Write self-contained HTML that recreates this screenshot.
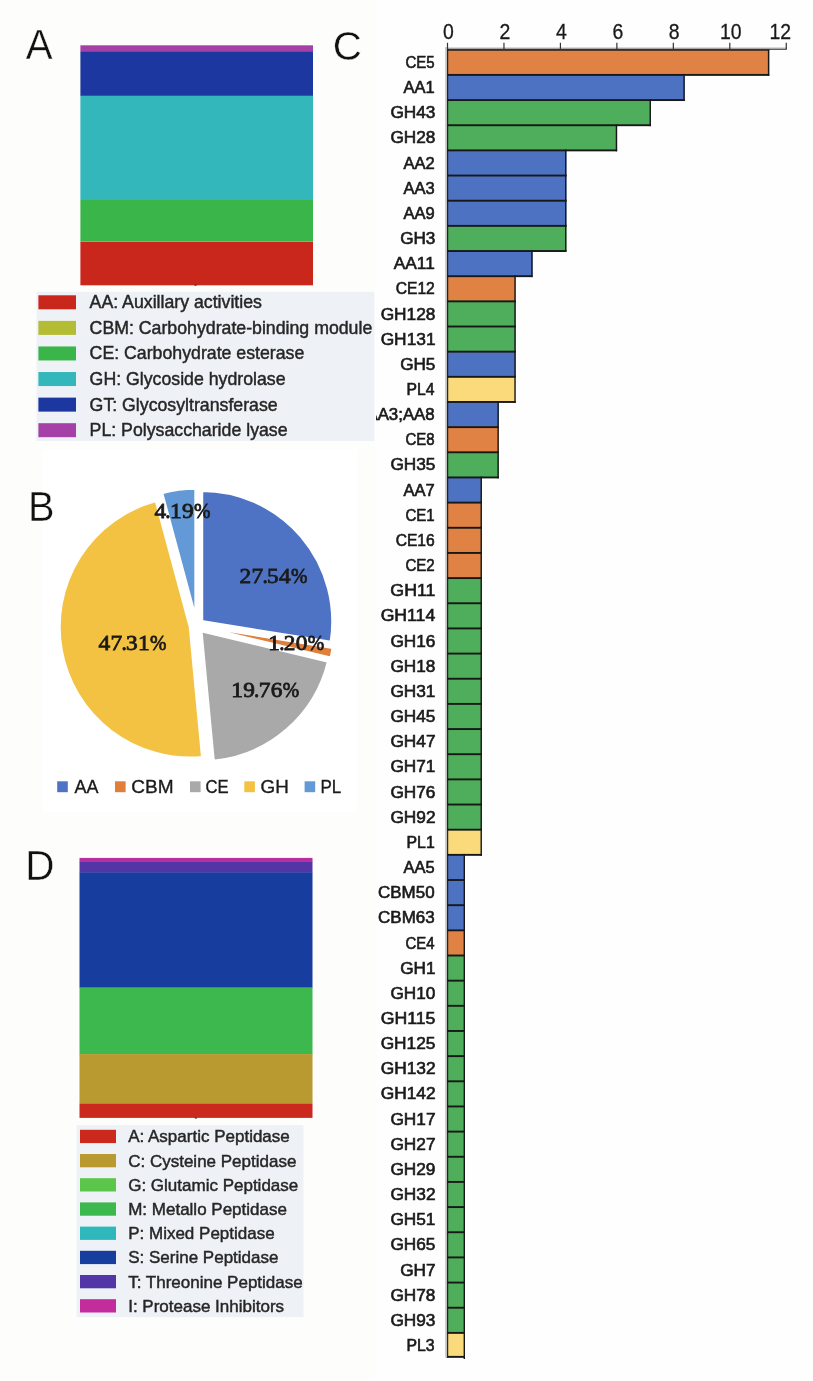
<!DOCTYPE html>
<html><head><meta charset="utf-8"><title>Figure</title>
<style>
html,body{margin:0;padding:0;background:#fdfdfc;}
body{width:813px;height:1381px;overflow:hidden;font-family:"Liberation Sans",sans-serif;}
svg{display:block;will-change:transform;opacity:0.9999;}
text{font-family:"Liberation Sans",sans-serif;}
.ser{font-family:"Liberation Serif",serif;font-weight:normal;stroke:#1a1a1a;stroke-width:0.8px;}
</style></head><body>
<svg width="813" height="1381" viewBox="0 0 813 1381">
<rect x="0" y="0" width="813" height="1381" fill="#fdfdfc"/>

<g id="panelA">
<rect x="80.4" y="45.3" width="232.6" height="6.60" fill="#A540A6"/>
<rect x="80.4" y="51.6" width="232.6" height="44.40" fill="#1C379F"/>
<rect x="80.4" y="95.7" width="232.6" height="104.60" fill="#33B7BB"/>
<rect x="80.4" y="200.0" width="232.6" height="41.60" fill="#3AB54A"/>
<rect x="80.4" y="241.3" width="232.6" height="0.90" fill="#9DB53A"/>
<rect x="80.4" y="241.9" width="232.6" height="43.40" fill="#C9271B"/>
<rect x="194.5" y="284.6" width="2" height="1.1" fill="#4a1a14"/>
<rect x="36.5" y="291.8" width="338.5" height="149.2" fill="#eef2f6"/>
<rect x="38.4" y="295.30" width="37.6" height="14" fill="#C9271B"/>
<text x="89.6" y="308.20" font-size="17.73" fill="#262626" stroke="#262626" stroke-width="0.45">AA: Auxillary activities</text>
<rect x="38.4" y="320.88" width="37.6" height="14" fill="#B4BC34"/>
<text x="89.6" y="333.78" font-size="17.73" fill="#262626" stroke="#262626" stroke-width="0.45">CBM: Carbohydrate-binding module</text>
<rect x="38.4" y="346.46" width="37.6" height="14" fill="#3AB54A"/>
<text x="89.6" y="359.36" font-size="17.73" fill="#262626" stroke="#262626" stroke-width="0.45">CE: Carbohydrate esterase</text>
<rect x="38.4" y="372.04" width="37.6" height="14" fill="#33B7BB"/>
<text x="89.6" y="384.94" font-size="17.73" fill="#262626" stroke="#262626" stroke-width="0.45">GH: Glycoside hydrolase</text>
<rect x="38.4" y="397.62" width="37.6" height="14" fill="#1C379F"/>
<text x="89.6" y="410.52" font-size="17.73" fill="#262626" stroke="#262626" stroke-width="0.45">GT: Glycosyltransferase</text>
<rect x="38.4" y="423.20" width="37.6" height="14" fill="#A540A6"/>
<text x="89.6" y="436.10" font-size="17.73" fill="#262626" stroke="#262626" stroke-width="0.45">PL: Polysaccharide lyase</text>
</g>
<g id="panelD">
<rect x="79.5" y="857.9" width="233.0" height="3.80" fill="#B8309E"/>
<rect x="79.5" y="861.4" width="233.0" height="11.40" fill="#5235A6"/>
<rect x="79.5" y="872.5" width="233.0" height="115.30" fill="#173D9F"/>
<rect x="79.5" y="987.6" width="233.0" height="66.80" fill="#3CB84E"/>
<rect x="79.5" y="1054.1" width="233.0" height="50.00" fill="#B89A31"/>
<rect x="79.5" y="1103.8" width="233.0" height="14.10" fill="#CB291D"/>
<rect x="194.8" y="1117.5" width="2" height="1.1" fill="#4a1a14"/>
<rect x="76.5" y="1125.2" width="227" height="192.0" fill="#eef2f6"/>
<rect x="80" y="1129.80" width="36" height="13.3" fill="#CB291D"/>
<text x="128.2" y="1142.30" font-size="17.0" fill="#262626" stroke="#262626" stroke-width="0.45">A: Aspartic Peptidase</text>
<rect x="80" y="1154.00" width="36" height="13.3" fill="#B89A31"/>
<text x="128.2" y="1166.50" font-size="17.0" fill="#262626" stroke="#262626" stroke-width="0.45">C: Cysteine Peptidase</text>
<rect x="80" y="1178.20" width="36" height="13.3" fill="#5CC64A"/>
<text x="128.2" y="1190.70" font-size="17.0" fill="#262626" stroke="#262626" stroke-width="0.45">G: Glutamic Peptidase</text>
<rect x="80" y="1202.40" width="36" height="13.3" fill="#3CB84E"/>
<text x="128.2" y="1214.90" font-size="17.0" fill="#262626" stroke="#262626" stroke-width="0.45">M: Metallo Peptidase</text>
<rect x="80" y="1226.60" width="36" height="13.3" fill="#2FB8BC"/>
<text x="128.2" y="1239.10" font-size="17.0" fill="#262626" stroke="#262626" stroke-width="0.45">P: Mixed Peptidase</text>
<rect x="80" y="1250.80" width="36" height="13.3" fill="#173D9F"/>
<text x="128.2" y="1263.30" font-size="17.0" fill="#262626" stroke="#262626" stroke-width="0.45">S: Serine Peptidase</text>
<rect x="80" y="1275.00" width="36" height="13.3" fill="#5235A6"/>
<text x="128.2" y="1287.50" font-size="17.0" fill="#262626" stroke="#262626" stroke-width="0.45">T: Threonine Peptidase</text>
<rect x="80" y="1299.20" width="36" height="13.3" fill="#C22C9C"/>
<text x="128.2" y="1311.70" font-size="17.0" fill="#262626" stroke="#262626" stroke-width="0.45">I: Protease Inhibitors</text>
</g>
<g id="panelB">
<rect x="42" y="449" width="315" height="363" fill="#ffffff"/>
<path d="M201.72,621.52 L201.72,490.52 A131.0,131.0 0 0 1 331.06,642.34 Z" fill="#4E73C4" stroke="#ffffff" stroke-width="3.0" stroke-linejoin="round"/>
<path d="M203.17,627.09 L332.51,647.91 A131.0,131.0 0 0 1 330.57,657.59 Z" fill="#E07E3A" stroke="#ffffff" stroke-width="2.0" stroke-linejoin="round"/>
<path d="M201.03,630.78 L328.43,661.28 A131.0,131.0 0 0 1 213.36,761.20 Z" fill="#A9A9A9" stroke="#ffffff" stroke-width="3.0" stroke-linejoin="round"/>
<path d="M190.21,626.97 L202.53,757.39 A131.0,131.0 0 0 1 156.11,500.49 Z" fill="#F4C242" stroke="#ffffff" stroke-width="3.0" stroke-linejoin="round"/>
<path d="M195.83,619.26 L161.74,492.77 A131.0,131.0 0 0 1 195.83,488.26 Z" fill="#6399D7" stroke="#ffffff" stroke-width="3.0" stroke-linejoin="round"/>
<text class="ser" transform="translate(239.60,582.7) scale(1.10,1)" font-size="21.2" fill="#1a1a1a">2</text>
<text class="ser" transform="translate(251.45,582.7) scale(1.10,1)" font-size="21.2" fill="#1a1a1a">7</text>
<text class="ser" transform="translate(262.40,582.7)" font-size="21.2" fill="#1a1a1a">.</text>
<text class="ser" transform="translate(267.10,582.7) scale(1.10,1)" font-size="21.2" fill="#1a1a1a">5</text>
<text class="ser" transform="translate(278.95,582.7) scale(1.10,1)" font-size="21.2" fill="#1a1a1a">4</text>
<text class="ser" transform="translate(291.00,582.7) scale(0.93,1)" font-size="21.2" fill="#1a1a1a">%</text>
<text class="ser" transform="translate(268.20,650.4) scale(1.10,1)" font-size="21.2" fill="#1a1a1a">1</text>
<text class="ser" transform="translate(279.15,650.4)" font-size="21.2" fill="#1a1a1a">.</text>
<text class="ser" transform="translate(283.85,650.4) scale(1.10,1)" font-size="21.2" fill="#1a1a1a">2</text>
<text class="ser" transform="translate(295.70,650.4) scale(1.10,1)" font-size="21.2" fill="#1a1a1a">0</text>
<text class="ser" transform="translate(307.75,650.4) scale(0.93,1)" font-size="21.2" fill="#1a1a1a">%</text>
<text class="ser" transform="translate(231.30,696.7) scale(1.10,1)" font-size="21.2" fill="#1a1a1a">1</text>
<text class="ser" transform="translate(243.15,696.7) scale(1.10,1)" font-size="21.2" fill="#1a1a1a">9</text>
<text class="ser" transform="translate(254.10,696.7)" font-size="21.2" fill="#1a1a1a">.</text>
<text class="ser" transform="translate(258.80,696.7) scale(1.10,1)" font-size="21.2" fill="#1a1a1a">7</text>
<text class="ser" transform="translate(270.65,696.7) scale(1.10,1)" font-size="21.2" fill="#1a1a1a">6</text>
<text class="ser" transform="translate(282.70,696.7) scale(0.93,1)" font-size="21.2" fill="#1a1a1a">%</text>
<text class="ser" transform="translate(98.60,650.4) scale(1.10,1)" font-size="21.2" fill="#1a1a1a">4</text>
<text class="ser" transform="translate(110.45,650.4) scale(1.10,1)" font-size="21.2" fill="#1a1a1a">7</text>
<text class="ser" transform="translate(121.40,650.4)" font-size="21.2" fill="#1a1a1a">.</text>
<text class="ser" transform="translate(126.10,650.4) scale(1.10,1)" font-size="21.2" fill="#1a1a1a">3</text>
<text class="ser" transform="translate(137.95,650.4) scale(1.10,1)" font-size="21.2" fill="#1a1a1a">1</text>
<text class="ser" transform="translate(150.00,650.4) scale(0.93,1)" font-size="21.2" fill="#1a1a1a">%</text>
<text class="ser" transform="translate(154.40,517.5) scale(1.10,1)" font-size="21.2" fill="#1a1a1a">4</text>
<text class="ser" transform="translate(165.35,517.5)" font-size="21.2" fill="#1a1a1a">.</text>
<text class="ser" transform="translate(170.05,517.5) scale(1.10,1)" font-size="21.2" fill="#1a1a1a">1</text>
<text class="ser" transform="translate(181.90,517.5) scale(1.10,1)" font-size="21.2" fill="#1a1a1a">9</text>
<text class="ser" transform="translate(193.95,517.5) scale(0.93,1)" font-size="21.2" fill="#1a1a1a">%</text>
<rect x="57.2" y="781.3" width="10.6" height="10.9" fill="#4E73C4"/>
<text transform="translate(74.40,792.90) scale(0.9558,1)" font-size="18.8" fill="#1a1a1a" stroke="#1a1a1a" stroke-width="0.35">AA</text>
<rect x="115" y="781.3" width="10.6" height="10.9" fill="#E07E3A"/>
<text transform="translate(131.35,792.90) scale(1.0129,1)" font-size="18.8" fill="#1a1a1a" stroke="#1a1a1a" stroke-width="0.35">CBM</text>
<rect x="190" y="781.3" width="10.6" height="10.9" fill="#A9A9A9"/>
<text transform="translate(205.57,792.90) scale(0.8872,1)" font-size="18.8" fill="#1a1a1a" stroke="#1a1a1a" stroke-width="0.35">CE</text>
<rect x="244.3" y="781.3" width="10.6" height="10.9" fill="#F4C242"/>
<text transform="translate(260.56,792.90) scale(1.0017,1)" font-size="18.8" fill="#1a1a1a" stroke="#1a1a1a" stroke-width="0.35">GH</text>
<rect x="304.6" y="781.3" width="10.6" height="10.9" fill="#6399D7"/>
<text transform="translate(320.44,792.90) scale(0.9057,1)" font-size="18.8" fill="#1a1a1a" stroke="#1a1a1a" stroke-width="0.35">PL</text>
</g>
<g id="panelC">
<rect x="374.5" y="0" width="438.5" height="1381" fill="#fefefe"/>
<text transform="translate(448.40,39.45) scale(0.90,1)" font-size="21.6" text-anchor="middle" fill="#1a1a1a" stroke="#1a1a1a" stroke-width="0.3">0</text>
<text transform="translate(504.86,39.45) scale(0.90,1)" font-size="21.6" text-anchor="middle" fill="#1a1a1a" stroke="#1a1a1a" stroke-width="0.3">2</text>
<text transform="translate(561.32,39.45) scale(0.90,1)" font-size="21.6" text-anchor="middle" fill="#1a1a1a" stroke="#1a1a1a" stroke-width="0.3">4</text>
<text transform="translate(617.78,39.45) scale(0.90,1)" font-size="21.6" text-anchor="middle" fill="#1a1a1a" stroke="#1a1a1a" stroke-width="0.3">6</text>
<text transform="translate(674.24,39.45) scale(0.90,1)" font-size="21.6" text-anchor="middle" fill="#1a1a1a" stroke="#1a1a1a" stroke-width="0.3">8</text>
<text transform="translate(730.70,39.45) scale(0.90,1)" font-size="21.6" text-anchor="middle" fill="#1a1a1a" stroke="#1a1a1a" stroke-width="0.3">10</text>
<text transform="translate(780.26,39.45) scale(0.90,1)" font-size="21.6" text-anchor="middle" fill="#1a1a1a" stroke="#1a1a1a" stroke-width="0.3">12</text>
<clipPath id="clipC"><rect x="376.0" y="0" width="440" height="1381"/></clipPath>
<g clip-path="url(#clipC)">
<rect x="446.50" y="49.20" width="322.78" height="25.66" fill="#E08244"/>
<rect x="767.88" y="48.80" width="1.4" height="27.06" fill="#181818"/>
<rect x="446.50" y="48.80" width="322.78" height="1.9" fill="#181818"/>
<text transform="translate(405.41,67.93) scale(0.8828,1)" font-size="17" fill="#1a1a1a" stroke="#1a1a1a" stroke-width="0.65">CE5</text>
<rect x="446.50" y="74.36" width="238.26" height="25.66" fill="#4D72C2"/>
<rect x="683.36" y="73.96" width="1.4" height="27.06" fill="#181818"/>
<rect x="446.50" y="73.96" width="322.78" height="1.9" fill="#181818"/>
<text transform="translate(403.53,93.09) scale(0.9714,1)" font-size="17" fill="#1a1a1a" stroke="#1a1a1a" stroke-width="0.65">AA1</text>
<rect x="446.50" y="99.52" width="204.45" height="25.66" fill="#4FAE5B"/>
<rect x="649.55" y="99.12" width="1.4" height="27.06" fill="#181818"/>
<rect x="446.50" y="99.12" width="238.26" height="1.9" fill="#181818"/>
<text transform="translate(390.39,118.25) scale(1.0141,1)" font-size="17" fill="#1a1a1a" stroke="#1a1a1a" stroke-width="0.65">GH43</text>
<rect x="446.50" y="124.68" width="170.64" height="25.66" fill="#4FAE5B"/>
<rect x="615.74" y="124.28" width="1.4" height="27.06" fill="#181818"/>
<rect x="446.50" y="124.28" width="204.45" height="1.9" fill="#181818"/>
<text transform="translate(390.39,143.41) scale(1.0141,1)" font-size="17" fill="#1a1a1a" stroke="#1a1a1a" stroke-width="0.65">GH28</text>
<rect x="446.50" y="149.84" width="119.93" height="25.66" fill="#4D72C2"/>
<rect x="565.03" y="149.44" width="1.4" height="27.06" fill="#181818"/>
<rect x="446.50" y="149.44" width="170.64" height="1.9" fill="#181818"/>
<text transform="translate(403.53,168.57) scale(0.9740,1)" font-size="17" fill="#1a1a1a" stroke="#1a1a1a" stroke-width="0.65">AA2</text>
<rect x="446.50" y="175.00" width="119.93" height="25.66" fill="#4D72C2"/>
<rect x="565.03" y="174.60" width="1.4" height="27.06" fill="#181818"/>
<rect x="446.50" y="174.60" width="119.93" height="1.9" fill="#181818"/>
<text transform="translate(403.53,193.73) scale(0.9688,1)" font-size="17" fill="#1a1a1a" stroke="#1a1a1a" stroke-width="0.65">AA3</text>
<rect x="446.50" y="200.16" width="119.93" height="25.66" fill="#4D72C2"/>
<rect x="565.03" y="199.76" width="1.4" height="27.06" fill="#181818"/>
<rect x="446.50" y="199.76" width="119.93" height="1.9" fill="#181818"/>
<text transform="translate(403.53,218.89) scale(0.9714,1)" font-size="17" fill="#1a1a1a" stroke="#1a1a1a" stroke-width="0.65">AA9</text>
<rect x="446.50" y="225.32" width="119.93" height="25.66" fill="#4FAE5B"/>
<rect x="565.03" y="224.92" width="1.4" height="27.06" fill="#181818"/>
<rect x="446.50" y="224.92" width="119.93" height="1.9" fill="#181818"/>
<text transform="translate(400.13,244.05) scale(1.0092,1)" font-size="17" fill="#1a1a1a" stroke="#1a1a1a" stroke-width="0.65">GH3</text>
<rect x="446.50" y="250.48" width="86.12" height="25.66" fill="#4D72C2"/>
<rect x="531.22" y="250.08" width="1.4" height="27.06" fill="#181818"/>
<rect x="446.50" y="250.08" width="119.93" height="1.9" fill="#181818"/>
<text transform="translate(393.80,269.21) scale(1.0171,1)" font-size="17" fill="#1a1a1a" stroke="#1a1a1a" stroke-width="0.65">AA11</text>
<rect x="446.50" y="275.64" width="69.22" height="25.66" fill="#E08244"/>
<rect x="514.32" y="275.24" width="1.4" height="27.06" fill="#181818"/>
<rect x="446.50" y="275.24" width="86.12" height="1.9" fill="#181818"/>
<text transform="translate(395.65,294.37) scale(0.9209,1)" font-size="17" fill="#1a1a1a" stroke="#1a1a1a" stroke-width="0.65">CE12</text>
<rect x="446.50" y="300.80" width="69.22" height="25.66" fill="#4FAE5B"/>
<rect x="514.32" y="300.40" width="1.4" height="27.06" fill="#181818"/>
<rect x="446.50" y="300.40" width="69.22" height="1.9" fill="#181818"/>
<text transform="translate(380.66,319.53) scale(1.0173,1)" font-size="17" fill="#1a1a1a" stroke="#1a1a1a" stroke-width="0.65">GH128</text>
<rect x="446.50" y="325.96" width="69.22" height="25.66" fill="#4FAE5B"/>
<rect x="514.32" y="325.56" width="1.4" height="27.06" fill="#181818"/>
<rect x="446.50" y="325.56" width="69.22" height="1.9" fill="#181818"/>
<text transform="translate(380.65,344.69) scale(1.0190,1)" font-size="17" fill="#1a1a1a" stroke="#1a1a1a" stroke-width="0.65">GH131</text>
<rect x="446.50" y="351.12" width="69.22" height="25.66" fill="#4D72C2"/>
<rect x="514.32" y="350.72" width="1.4" height="27.06" fill="#181818"/>
<rect x="446.50" y="350.72" width="69.22" height="1.9" fill="#181818"/>
<text transform="translate(400.13,369.85) scale(1.0092,1)" font-size="17" fill="#1a1a1a" stroke="#1a1a1a" stroke-width="0.65">GH5</text>
<rect x="446.50" y="376.27" width="69.22" height="25.66" fill="#FBDA7C"/>
<rect x="514.32" y="375.88" width="1.4" height="27.06" fill="#181818"/>
<rect x="446.50" y="375.88" width="69.22" height="1.9" fill="#181818"/>
<text transform="translate(406.52,395.00) scale(0.9237,1)" font-size="17" fill="#1a1a1a" stroke="#1a1a1a" stroke-width="0.65">PL4</text>
<rect x="446.50" y="401.43" width="52.31" height="25.66" fill="#4D72C2"/>
<rect x="497.41" y="401.03" width="1.4" height="27.06" fill="#181818"/>
<rect x="446.50" y="401.03" width="69.22" height="1.9" fill="#181818"/>
<text transform="translate(366.42,420.16) scale(0.9901,1)" font-size="17" fill="#1a1a1a" stroke="#1a1a1a" stroke-width="0.65">AA3;AA8</text>
<rect x="446.50" y="426.59" width="52.31" height="25.66" fill="#E08244"/>
<rect x="497.41" y="426.19" width="1.4" height="27.06" fill="#181818"/>
<rect x="446.50" y="426.19" width="52.31" height="1.9" fill="#181818"/>
<text transform="translate(405.41,445.32) scale(0.8828,1)" font-size="17" fill="#1a1a1a" stroke="#1a1a1a" stroke-width="0.65">CE8</text>
<rect x="446.50" y="451.75" width="52.31" height="25.66" fill="#4FAE5B"/>
<rect x="497.41" y="451.35" width="1.4" height="27.06" fill="#181818"/>
<rect x="446.50" y="451.35" width="52.31" height="1.9" fill="#181818"/>
<text transform="translate(390.39,470.48) scale(1.0141,1)" font-size="17" fill="#1a1a1a" stroke="#1a1a1a" stroke-width="0.65">GH35</text>
<rect x="446.50" y="476.91" width="35.41" height="25.66" fill="#4D72C2"/>
<rect x="480.51" y="476.51" width="1.4" height="27.06" fill="#181818"/>
<rect x="446.50" y="476.51" width="52.31" height="1.9" fill="#181818"/>
<text transform="translate(403.53,495.64) scale(0.9740,1)" font-size="17" fill="#1a1a1a" stroke="#1a1a1a" stroke-width="0.65">AA7</text>
<rect x="446.50" y="502.07" width="35.41" height="25.66" fill="#E08244"/>
<rect x="480.51" y="501.67" width="1.4" height="27.06" fill="#181818"/>
<rect x="446.50" y="501.67" width="35.41" height="1.9" fill="#181818"/>
<text transform="translate(405.41,520.80) scale(0.8851,1)" font-size="17" fill="#1a1a1a" stroke="#1a1a1a" stroke-width="0.65">CE1</text>
<rect x="446.50" y="527.23" width="35.41" height="25.66" fill="#E08244"/>
<rect x="480.51" y="526.83" width="1.4" height="27.06" fill="#181818"/>
<rect x="446.50" y="526.83" width="35.41" height="1.9" fill="#181818"/>
<text transform="translate(395.65,545.96) scale(0.9171,1)" font-size="17" fill="#1a1a1a" stroke="#1a1a1a" stroke-width="0.65">CE16</text>
<rect x="446.50" y="552.39" width="35.41" height="25.66" fill="#E08244"/>
<rect x="480.51" y="551.99" width="1.4" height="27.06" fill="#181818"/>
<rect x="446.50" y="551.99" width="35.41" height="1.9" fill="#181818"/>
<text transform="translate(405.41,571.12) scale(0.8875,1)" font-size="17" fill="#1a1a1a" stroke="#1a1a1a" stroke-width="0.65">CE2</text>
<rect x="446.50" y="577.55" width="35.41" height="25.66" fill="#4FAE5B"/>
<rect x="480.51" y="577.15" width="1.4" height="27.06" fill="#181818"/>
<rect x="446.50" y="577.15" width="35.41" height="1.9" fill="#181818"/>
<text transform="translate(390.36,596.28) scale(1.0474,1)" font-size="17" fill="#1a1a1a" stroke="#1a1a1a" stroke-width="0.65">GH11</text>
<rect x="446.50" y="602.71" width="35.41" height="25.66" fill="#4FAE5B"/>
<rect x="480.51" y="602.31" width="1.4" height="27.06" fill="#181818"/>
<rect x="446.50" y="602.31" width="35.41" height="1.9" fill="#181818"/>
<text transform="translate(380.64,621.44) scale(1.0376,1)" font-size="17" fill="#1a1a1a" stroke="#1a1a1a" stroke-width="0.65">GH114</text>
<rect x="446.50" y="627.87" width="35.41" height="25.66" fill="#4FAE5B"/>
<rect x="480.51" y="627.47" width="1.4" height="27.06" fill="#181818"/>
<rect x="446.50" y="627.47" width="35.41" height="1.9" fill="#181818"/>
<text transform="translate(390.39,646.60) scale(1.0141,1)" font-size="17" fill="#1a1a1a" stroke="#1a1a1a" stroke-width="0.65">GH16</text>
<rect x="446.50" y="653.03" width="35.41" height="25.66" fill="#4FAE5B"/>
<rect x="480.51" y="652.63" width="1.4" height="27.06" fill="#181818"/>
<rect x="446.50" y="652.63" width="35.41" height="1.9" fill="#181818"/>
<text transform="translate(390.39,671.76) scale(1.0141,1)" font-size="17" fill="#1a1a1a" stroke="#1a1a1a" stroke-width="0.65">GH18</text>
<rect x="446.50" y="678.19" width="35.41" height="25.66" fill="#4FAE5B"/>
<rect x="480.51" y="677.79" width="1.4" height="27.06" fill="#181818"/>
<rect x="446.50" y="677.79" width="35.41" height="1.9" fill="#181818"/>
<text transform="translate(390.39,696.92) scale(1.0162,1)" font-size="17" fill="#1a1a1a" stroke="#1a1a1a" stroke-width="0.65">GH31</text>
<rect x="446.50" y="703.35" width="35.41" height="25.66" fill="#4FAE5B"/>
<rect x="480.51" y="702.95" width="1.4" height="27.06" fill="#181818"/>
<rect x="446.50" y="702.95" width="35.41" height="1.9" fill="#181818"/>
<text transform="translate(390.39,722.08) scale(1.0141,1)" font-size="17" fill="#1a1a1a" stroke="#1a1a1a" stroke-width="0.65">GH45</text>
<rect x="446.50" y="728.51" width="35.41" height="25.66" fill="#4FAE5B"/>
<rect x="480.51" y="728.11" width="1.4" height="27.06" fill="#181818"/>
<rect x="446.50" y="728.11" width="35.41" height="1.9" fill="#181818"/>
<text transform="translate(390.39,747.24) scale(1.0182,1)" font-size="17" fill="#1a1a1a" stroke="#1a1a1a" stroke-width="0.65">GH47</text>
<rect x="446.50" y="753.67" width="35.41" height="25.66" fill="#4FAE5B"/>
<rect x="480.51" y="753.27" width="1.4" height="27.06" fill="#181818"/>
<rect x="446.50" y="753.27" width="35.41" height="1.9" fill="#181818"/>
<text transform="translate(390.39,772.40) scale(1.0162,1)" font-size="17" fill="#1a1a1a" stroke="#1a1a1a" stroke-width="0.65">GH71</text>
<rect x="446.50" y="778.83" width="35.41" height="25.66" fill="#4FAE5B"/>
<rect x="480.51" y="778.43" width="1.4" height="27.06" fill="#181818"/>
<rect x="446.50" y="778.43" width="35.41" height="1.9" fill="#181818"/>
<text transform="translate(390.39,797.56) scale(1.0141,1)" font-size="17" fill="#1a1a1a" stroke="#1a1a1a" stroke-width="0.65">GH76</text>
<rect x="446.50" y="803.99" width="35.41" height="25.66" fill="#4FAE5B"/>
<rect x="480.51" y="803.59" width="1.4" height="27.06" fill="#181818"/>
<rect x="446.50" y="803.59" width="35.41" height="1.9" fill="#181818"/>
<text transform="translate(390.39,822.72) scale(1.0182,1)" font-size="17" fill="#1a1a1a" stroke="#1a1a1a" stroke-width="0.65">GH92</text>
<rect x="446.50" y="829.15" width="35.41" height="25.66" fill="#FBDA7C"/>
<rect x="480.51" y="828.75" width="1.4" height="27.06" fill="#181818"/>
<rect x="446.50" y="828.75" width="35.41" height="1.9" fill="#181818"/>
<text transform="translate(406.51,847.88) scale(0.9321,1)" font-size="17" fill="#1a1a1a" stroke="#1a1a1a" stroke-width="0.65">PL1</text>
<rect x="446.50" y="854.31" width="18.50" height="25.66" fill="#4D72C2"/>
<rect x="463.60" y="853.91" width="1.4" height="27.06" fill="#181818"/>
<rect x="446.50" y="853.91" width="35.41" height="1.9" fill="#181818"/>
<text transform="translate(403.53,873.04) scale(0.9688,1)" font-size="17" fill="#1a1a1a" stroke="#1a1a1a" stroke-width="0.65">AA5</text>
<rect x="446.50" y="879.47" width="18.50" height="25.66" fill="#4D72C2"/>
<rect x="463.60" y="879.07" width="1.4" height="27.06" fill="#181818"/>
<rect x="446.50" y="879.07" width="18.50" height="1.9" fill="#181818"/>
<text transform="translate(378.09,898.20) scale(0.9966,1)" font-size="17" fill="#1a1a1a" stroke="#1a1a1a" stroke-width="0.65">CBM50</text>
<rect x="446.50" y="904.63" width="18.50" height="25.66" fill="#4D72C2"/>
<rect x="463.60" y="904.23" width="1.4" height="27.06" fill="#181818"/>
<rect x="446.50" y="904.23" width="18.50" height="1.9" fill="#181818"/>
<text transform="translate(378.09,923.36) scale(0.9982,1)" font-size="17" fill="#1a1a1a" stroke="#1a1a1a" stroke-width="0.65">CBM63</text>
<rect x="446.50" y="929.79" width="18.50" height="25.66" fill="#E08244"/>
<rect x="463.60" y="929.39" width="1.4" height="27.06" fill="#181818"/>
<rect x="446.50" y="929.39" width="18.50" height="1.9" fill="#181818"/>
<text transform="translate(405.42,948.52) scale(0.8780,1)" font-size="17" fill="#1a1a1a" stroke="#1a1a1a" stroke-width="0.65">CE4</text>
<rect x="446.50" y="954.95" width="18.50" height="25.66" fill="#4FAE5B"/>
<rect x="463.60" y="954.55" width="1.4" height="27.06" fill="#181818"/>
<rect x="446.50" y="954.55" width="18.50" height="1.9" fill="#181818"/>
<text transform="translate(400.13,973.68) scale(1.0117,1)" font-size="17" fill="#1a1a1a" stroke="#1a1a1a" stroke-width="0.65">GH1</text>
<rect x="446.50" y="980.11" width="18.50" height="25.66" fill="#4FAE5B"/>
<rect x="463.60" y="979.71" width="1.4" height="27.06" fill="#181818"/>
<rect x="446.50" y="979.71" width="18.50" height="1.9" fill="#181818"/>
<text transform="translate(390.39,998.84) scale(1.0121,1)" font-size="17" fill="#1a1a1a" stroke="#1a1a1a" stroke-width="0.65">GH10</text>
<rect x="446.50" y="1005.27" width="18.50" height="25.66" fill="#4FAE5B"/>
<rect x="463.60" y="1004.87" width="1.4" height="27.06" fill="#181818"/>
<rect x="446.50" y="1004.87" width="18.50" height="1.9" fill="#181818"/>
<text transform="translate(380.64,1024.00) scale(1.0410,1)" font-size="17" fill="#1a1a1a" stroke="#1a1a1a" stroke-width="0.65">GH115</text>
<rect x="446.50" y="1030.42" width="18.50" height="25.66" fill="#4FAE5B"/>
<rect x="463.60" y="1030.02" width="1.4" height="27.06" fill="#181818"/>
<rect x="446.50" y="1030.02" width="18.50" height="1.9" fill="#181818"/>
<text transform="translate(380.66,1049.15) scale(1.0173,1)" font-size="17" fill="#1a1a1a" stroke="#1a1a1a" stroke-width="0.65">GH125</text>
<rect x="446.50" y="1055.58" width="18.50" height="25.66" fill="#4FAE5B"/>
<rect x="463.60" y="1055.18" width="1.4" height="27.06" fill="#181818"/>
<rect x="446.50" y="1055.18" width="18.50" height="1.9" fill="#181818"/>
<text transform="translate(380.65,1074.31) scale(1.0206,1)" font-size="17" fill="#1a1a1a" stroke="#1a1a1a" stroke-width="0.65">GH132</text>
<rect x="446.50" y="1080.74" width="18.50" height="25.66" fill="#4FAE5B"/>
<rect x="463.60" y="1080.34" width="1.4" height="27.06" fill="#181818"/>
<rect x="446.50" y="1080.34" width="18.50" height="1.9" fill="#181818"/>
<text transform="translate(380.65,1099.47) scale(1.0206,1)" font-size="17" fill="#1a1a1a" stroke="#1a1a1a" stroke-width="0.65">GH142</text>
<rect x="446.50" y="1105.90" width="18.50" height="25.66" fill="#4FAE5B"/>
<rect x="463.60" y="1105.50" width="1.4" height="27.06" fill="#181818"/>
<rect x="446.50" y="1105.50" width="18.50" height="1.9" fill="#181818"/>
<text transform="translate(390.39,1124.63) scale(1.0182,1)" font-size="17" fill="#1a1a1a" stroke="#1a1a1a" stroke-width="0.65">GH17</text>
<rect x="446.50" y="1131.06" width="18.50" height="25.66" fill="#4FAE5B"/>
<rect x="463.60" y="1130.66" width="1.4" height="27.06" fill="#181818"/>
<rect x="446.50" y="1130.66" width="18.50" height="1.9" fill="#181818"/>
<text transform="translate(390.39,1149.79) scale(1.0182,1)" font-size="17" fill="#1a1a1a" stroke="#1a1a1a" stroke-width="0.65">GH27</text>
<rect x="446.50" y="1156.22" width="18.50" height="25.66" fill="#4FAE5B"/>
<rect x="463.60" y="1155.82" width="1.4" height="27.06" fill="#181818"/>
<rect x="446.50" y="1155.82" width="18.50" height="1.9" fill="#181818"/>
<text transform="translate(390.39,1174.95) scale(1.0162,1)" font-size="17" fill="#1a1a1a" stroke="#1a1a1a" stroke-width="0.65">GH29</text>
<rect x="446.50" y="1181.38" width="18.50" height="25.66" fill="#4FAE5B"/>
<rect x="463.60" y="1180.98" width="1.4" height="27.06" fill="#181818"/>
<rect x="446.50" y="1180.98" width="18.50" height="1.9" fill="#181818"/>
<text transform="translate(390.39,1200.11) scale(1.0182,1)" font-size="17" fill="#1a1a1a" stroke="#1a1a1a" stroke-width="0.65">GH32</text>
<rect x="446.50" y="1206.54" width="18.50" height="25.66" fill="#4FAE5B"/>
<rect x="463.60" y="1206.14" width="1.4" height="27.06" fill="#181818"/>
<rect x="446.50" y="1206.14" width="18.50" height="1.9" fill="#181818"/>
<text transform="translate(390.39,1225.27) scale(1.0162,1)" font-size="17" fill="#1a1a1a" stroke="#1a1a1a" stroke-width="0.65">GH51</text>
<rect x="446.50" y="1231.70" width="18.50" height="25.66" fill="#4FAE5B"/>
<rect x="463.60" y="1231.30" width="1.4" height="27.06" fill="#181818"/>
<rect x="446.50" y="1231.30" width="18.50" height="1.9" fill="#181818"/>
<text transform="translate(390.39,1250.43) scale(1.0141,1)" font-size="17" fill="#1a1a1a" stroke="#1a1a1a" stroke-width="0.65">GH65</text>
<rect x="446.50" y="1256.86" width="18.50" height="25.66" fill="#4FAE5B"/>
<rect x="463.60" y="1256.46" width="1.4" height="27.06" fill="#181818"/>
<rect x="446.50" y="1256.46" width="18.50" height="1.9" fill="#181818"/>
<text transform="translate(400.13,1275.59) scale(1.0143,1)" font-size="17" fill="#1a1a1a" stroke="#1a1a1a" stroke-width="0.65">GH7</text>
<rect x="446.50" y="1282.02" width="18.50" height="25.66" fill="#4FAE5B"/>
<rect x="463.60" y="1281.62" width="1.4" height="27.06" fill="#181818"/>
<rect x="446.50" y="1281.62" width="18.50" height="1.9" fill="#181818"/>
<text transform="translate(390.39,1300.75) scale(1.0141,1)" font-size="17" fill="#1a1a1a" stroke="#1a1a1a" stroke-width="0.65">GH78</text>
<rect x="446.50" y="1307.18" width="18.50" height="25.66" fill="#4FAE5B"/>
<rect x="463.60" y="1306.78" width="1.4" height="27.06" fill="#181818"/>
<rect x="446.50" y="1306.78" width="18.50" height="1.9" fill="#181818"/>
<text transform="translate(390.39,1325.91) scale(1.0141,1)" font-size="17" fill="#1a1a1a" stroke="#1a1a1a" stroke-width="0.65">GH93</text>
<rect x="446.50" y="1332.34" width="18.50" height="25.66" fill="#FBDA7C"/>
<rect x="463.60" y="1331.94" width="1.4" height="27.06" fill="#181818"/>
<rect x="446.50" y="1331.94" width="18.50" height="1.9" fill="#181818"/>
<rect x="446.50" y="1355.90" width="18.50" height="1.9" fill="#181818"/>
<text transform="translate(406.51,1351.07) scale(0.9293,1)" font-size="17" fill="#1a1a1a" stroke="#1a1a1a" stroke-width="0.65">PL3</text>
</g>
<rect x="445.2" y="47.4" width="341.66" height="1.5" fill="#c2c2c2"/>
<rect x="445.2" y="47.4" width="1.9" height="1310.3" fill="#c2c2c2"/>
<rect x="447.1" y="48.8" width="339.76" height="1.0" fill="#3a3a3a"/>
<rect x="447.1" y="48.8" width="1.1" height="1308.9" fill="#181818"/>
<line x1="447.50" y1="42.8" x2="447.50" y2="48.9" stroke="#333" stroke-width="1.2"/>
<line x1="503.96" y1="42.8" x2="503.96" y2="48.9" stroke="#333" stroke-width="1.2"/>
<line x1="560.42" y1="42.8" x2="560.42" y2="48.9" stroke="#333" stroke-width="1.2"/>
<line x1="616.88" y1="42.8" x2="616.88" y2="48.9" stroke="#333" stroke-width="1.2"/>
<line x1="673.34" y1="42.8" x2="673.34" y2="48.9" stroke="#333" stroke-width="1.2"/>
<line x1="729.80" y1="42.8" x2="729.80" y2="48.9" stroke="#333" stroke-width="1.2"/>
<line x1="786.26" y1="42.8" x2="786.26" y2="48.9" stroke="#333" stroke-width="1.2"/>
</g>
<text transform="translate(25.80,58.80) scale(1.0075,1.0616)" font-size="40.0" fill="#111" stroke="#fdfdfc" stroke-width="0.387">A</text>
<text transform="translate(28.11,521.30) scale(0.9953,1.0399)" font-size="40.0" fill="#111" stroke="#fdfdfc" stroke-width="0.393">B</text>
<text transform="translate(332.78,59.99) scale(1.0079,1.0246)" font-size="40.0" fill="#111" stroke="#fdfdfc" stroke-width="0.394">C</text>
<text transform="translate(25.26,880.10) scale(1.0126,1.0399)" font-size="40.0" fill="#111" stroke="#fdfdfc" stroke-width="0.390">D</text>
</svg></body></html>
